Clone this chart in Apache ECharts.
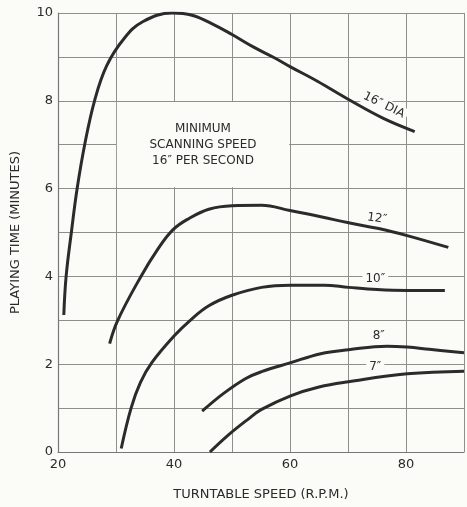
<!DOCTYPE html>
<html><head><meta charset="utf-8">
<script src="https://cdn.jsdelivr.net/npm/echarts@6/dist/echarts.min.js"></script>
<style>html,body{margin:0;padding:0;background:#fbfbf8}#c{width:467px;height:507px}</style>
</head><body><div id="c"></div>
<script>
const xTicks = [20, 40, 60, 80];
const yTicks = [0, 2, 4, 6, 8, 10];
const seriesNames = ['16″ DIA', '12″', '10″', '8″', '7″'];
const disc16 = [[21.0,3.12],[21.4,4.0],[22.3,5.0],[23.3,6.0],[24.6,7.0],[26.3,8.0],[28.4,8.8],[31.4,9.42],[34.6,9.8],[39.7,10.0],[43.1,9.95],[46.5,9.76],[50,9.51],[53.9,9.21],[57.3,8.98],[60,8.78],[64.8,8.44],[70.1,8.03],[76.1,7.6],[81.5,7.3]];
const disc12 = [[28.9,2.47],[30.3,3.0],[34.3,4.0],[37.1,4.6],[39.8,5.06],[42.6,5.32],[46,5.53],[50,5.61],[55.1,5.62],[60,5.5],[65.3,5.36],[70.1,5.22],[75.3,5.09],[80.2,4.93],[87.3,4.66]];
const disc10 = [[30.9,0.08],[32.6,1.0],[34.2,1.58],[36.2,2.04],[40,2.64],[42.8,3.0],[46,3.33],[50,3.57],[55.1,3.75],[60,3.8],[65.9,3.8],[70.1,3.75],[75,3.7],[80.2,3.68],[86.7,3.68]];
const disc8 = [[44.85,0.93],[48.5,1.33],[52.3,1.67],[55.1,1.83],[60,2.03],[65.3,2.24],[70.1,2.33],[76.75,2.41],[80.2,2.39],[84,2.34],[90,2.26]];
const disc7 = [[46.2,0.0],[49.4,0.39],[52.8,0.75],[55.1,0.97],[60.1,1.28],[65,1.48],[70.1,1.6],[80.2,1.78],[90,1.84]];
const noteLines = ['MINIMUM', 'SCANNING SPEED', '16″ PER SECOND'];

const FONT = 'DejaVu Sans';
const INK = '#2b2b2b';
const BG = '#fbfbf8';
function curveLabel(text, coord, rot) {
  return {
    symbol: 'circle', symbolSize: 1, silent: true,
    itemStyle: { color: 'rgba(0,0,0,0)' },
    data: [{ coord: coord, value: 0 }],
    label: { show: true, position: 'inside', formatter: text, rotate: rot,
      color: INK, fontFamily: FONT, fontSize: 12, backgroundColor: BG, padding: [1, 3] }
  };
}
const allData = [disc16, disc12, disc10, disc8, disc7];
const labelPos = [[[76.2, 7.9], -26], [[75.0, 5.32], -8], [[74.7, 3.95], 0], [[75.3, 2.64], 0], [[74.7, 1.94], 0]];
const series = allData.map((d, i) => ({
  name: seriesNames[i], type: 'line', data: d, smooth: 0.4, symbol: 'none',
  lineStyle: { color: INK, width: 3 },
  markPoint: curveLabel(seriesNames[i], labelPos[i][0], labelPos[i][1]),
  z: 3
}));
series[0].markArea = {
  silent: true,
  itemStyle: { color: BG },
  label: { show: true, position: 'inside', formatter: noteLines.join('\n'),
    color: INK, fontFamily: FONT, fontSize: 12, lineHeight: 16, align: 'center' },
  data: [[{ coord: [30.15, 6.03] }, { coord: [59.85, 7.97] }]]
};

const chart = echarts.init(document.getElementById('c'));
chart.setOption({
  backgroundColor: BG,
  animation: false,
  grid: { left: 58, right: 0, top: 13, bottom: 55 },
  xAxis: {
    type: 'value', min: 20, max: 90, interval: 10,
    name: 'TURNTABLE SPEED (R.P.M.)', nameLocation: 'middle', nameGap: 36,
    nameTextStyle: { color: INK, fontFamily: FONT, fontSize: 13 },
    axisLine: { show: true, lineStyle: { color: '#777', width: 1.2 } },
    axisTick: { show: false },
    axisLabel: { color: INK, fontFamily: FONT, fontSize: 13, margin: 6,
      formatter: v => xTicks.includes(v) ? String(v) : '' },
    splitLine: { show: true, lineStyle: { color: '#8f8f8a', width: 1 } }
  },
  yAxis: {
    type: 'value', min: 0, max: 10, interval: 1,
    name: 'PLAYING TIME (MINUTES)', nameLocation: 'middle', nameGap: 36,
    nameTextStyle: { color: INK, fontFamily: FONT, fontSize: 13 },
    axisLine: { show: true, lineStyle: { color: '#777', width: 1.2 } },
    axisTick: { show: false },
    axisLabel: { color: INK, fontFamily: FONT, fontSize: 13, margin: 5,
      formatter: v => yTicks.includes(v) ? String(v) : '' },
    splitLine: { show: true, lineStyle: { color: '#8f8f8a', width: 1 } }
  },
  series: series
});
</script></body></html>
